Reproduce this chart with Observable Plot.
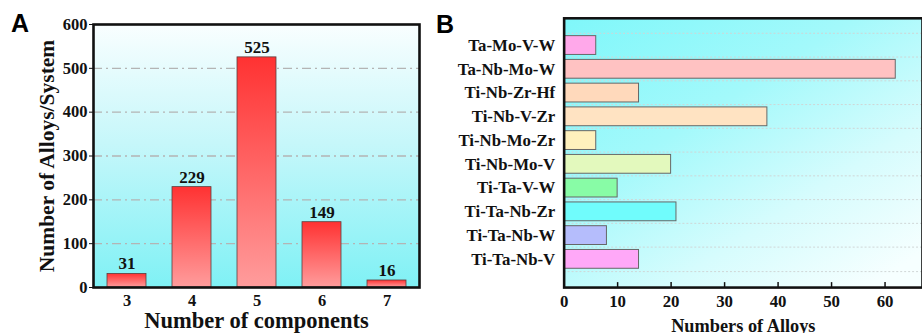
<!DOCTYPE html>
<html>
<head>
<meta charset="utf-8">
<script src="https://cdn.jsdelivr.net/npm/d3@7"></script>
<script src="https://cdn.jsdelivr.net/npm/@observablehq/plot@0.6"></script>
<style>
  html, body { margin: 0; padding: 0; background: #fff; overflow: hidden; }
  #wrap { position: relative; width: 922px; height: 336px; overflow: hidden; }
  .panel { position: absolute; top: 0; }
  .panel svg, .panel svg text { font-family: "Liberation Serif", "Times New Roman", serif !important; font-weight: bold; }
  .tag { position: absolute; font-family: "Liberation Sans", Arial, sans-serif; font-weight: bold; font-size: 25px; line-height: 1; }
</style>
</head>
<body>
<div id="wrap">
  <div class="tag" style="left:11px;top:11px;">A</div>
  <div class="tag" style="left:436px;top:12px;">B</div>
  <div id="panelA" class="panel" style="left:0px;"></div>
  <div id="panelB" class="panel" style="left:430px;"></div>
</div>
<script>
// Panel A: number of alloys per system, by number of components
const components = ["3", "4", "5", "6", "7"];
const alloysPerSystem = [31, 229, 525, 149, 16];
const yTicksA = [0, 100, 200, 300, 400, 500, 600];
const gridA = [100, 200, 300, 400, 500];

// Panel B: numbers of alloys for each quaternary system
const systems = ["Ta-Mo-V-W", "Ta-Nb-Mo-W", "Ti-Nb-Zr-Hf", "Ti-Nb-V-Zr", "Ti-Nb-Mo-Zr",
                 "Ti-Nb-Mo-V", "Ti-Ta-V-W", "Ti-Ta-Nb-Zr", "Ti-Ta-Nb-W", "Ti-Ta-Nb-V"];
const alloyCounts = [6, 62, 14, 38, 6, 20, 10, 21, 8, 14];
const systemColors = ["#ffa8ea", "#ffc2c2", "#ffd9bb", "#ffe3c2", "#fff1bd",
                      "#e3f9bd", "#88fca6", "#70fcfc", "#b5bdfc", "#ffa8f8"];
const xTicksB = [0, 10, 20, 30, 40, 50, 60];

const serif = "Liberation Serif";

const dataA = components.map((c, i) => ({c, n: alloysPerSystem[i]}));
const dataB = systems.map((s, i) => ({s, n: alloyCounts[i], color: systemColors[i]}));

// gradient definitions, inserted into each SVG as a mark
function defsA() {
  const defs = d3.create("svg:defs");
  const bg = defs.append("linearGradient").attr("id", "bgA")
    .attr("x1", 0).attr("y1", 0).attr("x2", 0).attr("y2", 1);
  bg.append("stop").attr("offset", "0%").attr("stop-color", "#f9feff");
  bg.append("stop").attr("offset", "45%").attr("stop-color", "#c6f7fa");
  bg.append("stop").attr("offset", "100%").attr("stop-color", "#7ff1f5");
  const bar = defs.append("linearGradient").attr("id", "barA")
    .attr("x1", 0).attr("y1", 0).attr("x2", 0).attr("y2", 1);
  bar.append("stop").attr("offset", "0%").attr("stop-color", "#ff3232");
  bar.append("stop").attr("offset", "100%").attr("stop-color", "#ff9c9c");
  return defs.node();
}
function defsB() {
  const defs = d3.create("svg:defs");
  const bg = defs.append("linearGradient").attr("id", "bgB")
    .attr("x1", 0).attr("y1", 0).attr("x2", 0.85).attr("y2", 1);
  bg.append("stop").attr("offset", "0%").attr("stop-color", "#7ff7fa");
  bg.append("stop").attr("offset", "40%").attr("stop-color", "#a3f9fb");
  bg.append("stop").attr("offset", "72%").attr("stop-color", "#d6fcfd");
  bg.append("stop").attr("offset", "100%").attr("stop-color", "#f6ffff");
  return defs.node();
}

const chartA = Plot.plot({
  width: 460, height: 336,
  marginLeft: 93, marginRight: 41, marginTop: 24, marginBottom: 49,
  style: {fontFamily: serif, fontSize: "16.5px", fontWeight: "bold", color: "#111", background: "transparent"},
  x: {domain: components, paddingInner: 0.4, paddingOuter: 0.2, label: null, tickSize: 0, tickPadding: 7},
  y: {domain: [0, 600], ticks: yTicksA, label: null, tickSize: 4, tickPadding: 2},
  marks: [
    defsA,
    Plot.frame({fill: "url(#bgA)", stroke: "none"}),
    Plot.ruleY(gridA, {stroke: "#b4b4b4", strokeWidth: 1.3, strokeDasharray: "9,4,2,4"}),
    Plot.barY(dataA, {x: "c", y: "n", fill: "url(#barA)", stroke: "#5a4040", strokeWidth: 0.8}),
    Plot.text(dataA, {x: "c", y: "n", text: d => String(d.n), dy: -10, fontSize: 17, fontWeight: "bold"}),
    Plot.frame({stroke: "#111", strokeWidth: 2.6}),
    Plot.text(["Number of components"], {frameAnchor: "bottom", lineAnchor: "middle", dy: 33, text: d => d, fontSize: 22.5, fontWeight: "bold"}),
    Plot.text(["Number of Alloys/System"], {frameAnchor: "left", textAnchor: "middle", lineAnchor: "middle", dx: -46, rotate: -90, text: d => d, fontSize: 21.5, fontWeight: "bold"})
  ]
});
document.getElementById("panelA").append(chartA);

// layout of panel B; the band step is derived from it for the row separators
const bLayout = {width: 497, height: 336, marginLeft: 135, marginRight: 0, marginTop: 18, marginBottom: 46};
const padInner = 0.2, padOuter = 0.6;
const frameHeightB = bLayout.height - bLayout.marginTop - bLayout.marginBottom;
const bandStep = frameHeightB / (systems.length - padInner + 2 * padOuter);
const tickLen = 5;

const chartB = Plot.plot({
  ...bLayout,
  style: {fontFamily: serif, fontSize: "17px", fontWeight: "bold", color: "#111", background: "transparent"},
  x: {domain: [0, 67], ticks: xTicksB, label: null, tickSize: 0, tickPadding: 8},
  y: {domain: systems, paddingInner: padInner, paddingOuter: padOuter, label: null, tickSize: 0, tickPadding: 9},
  marks: [
    defsB,
    Plot.frame({fill: "url(#bgB)", stroke: "none"}),
    Plot.ruleY(systems, {y: d => d, dy: -bandStep / 2, stroke: "#cfd6d6", strokeWidth: 1, strokeDasharray: "2,2"}),
    Plot.ruleY(systems.slice(-1), {y: d => d, dy: bandStep / 2, stroke: "#cfd6d6", strokeWidth: 1, strokeDasharray: "2,2"}),
    Plot.barX(dataB, {y: "s", x: "n", fill: "color", stroke: "#666", strokeWidth: 1}),
    Plot.tickX(xTicksB.slice(1), {x: d => d, stroke: "#111", strokeWidth: 1.5, insetTop: frameHeightB - tickLen}),
    Plot.frame({stroke: "#111", strokeWidth: 2.6}),
    Plot.text(["Numbers of Alloys"], {frameAnchor: "bottom", lineAnchor: "middle", dy: 39, text: d => d, fontSize: 18.5, fontWeight: "bold"})
  ]
});
document.getElementById("panelB").append(chartB);
</script>
</body>
</html>
